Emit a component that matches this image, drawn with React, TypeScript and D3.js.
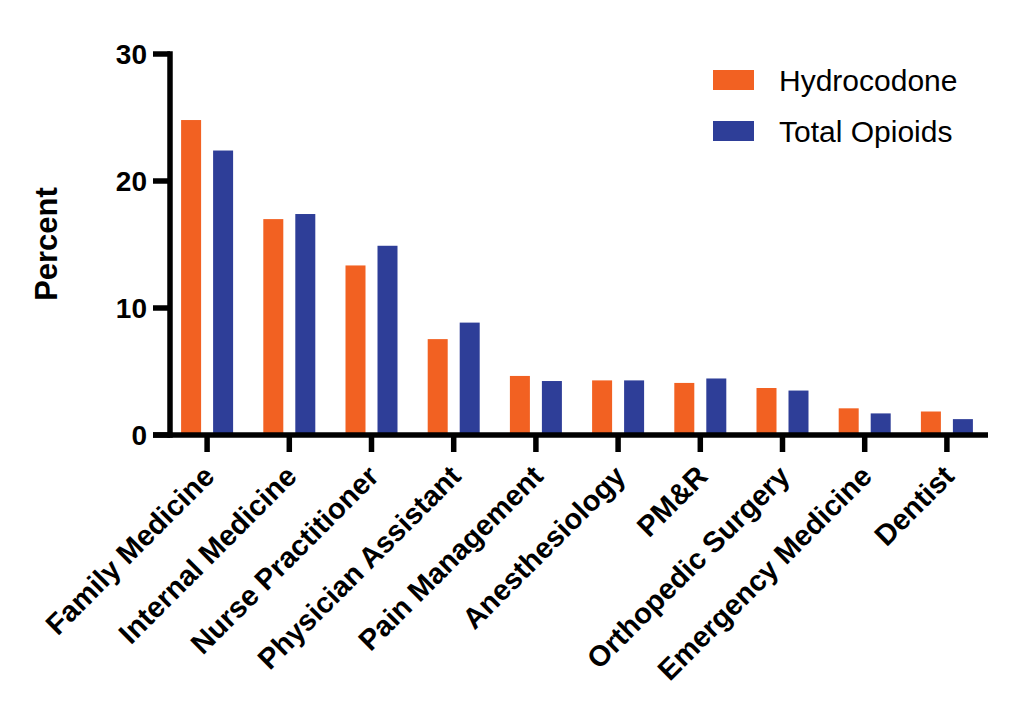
import * as d3 from 'd3';

const width = 1014;
const height = 708;

const categories = [
  'Family Medicine',
  'Internal Medicine',
  'Nurse Practitioner',
  'Physician Assistant',
  'Pain Management',
  'Anesthesiology',
  'PM&R',
  'Orthopedic Surgery',
  'Emergency Medicine',
  'Dentist',
];
const hydrocodone = [24.8, 17.0, 13.35, 7.55, 4.65, 4.3, 4.1, 3.7, 2.1, 1.85];
const totalOpioids = [22.4, 17.4, 14.9, 8.85, 4.25, 4.3, 4.45, 3.5, 1.7, 1.25];
const seriesNames = ['Hydrocodone', 'Total Opioids'];
const colors = ['#F26122', '#2E3E98'];
const yTicks = [0, 10, 20, 30];

const font = 'Arial, Liberation Sans, Helvetica, sans-serif';

export default function App() {
  const y = d3.scaleLinear([0, 30], [435, 54]);
  const x = d3.scaleBand(categories, [166, 988]);
  const inner = d3
    .scaleBand(seriesNames, [-26, 26])
    .paddingInner(0.375)
    .paddingOuter(0);
  const series = [hydrocodone, totalOpioids];
  const axisLeft = 170;
  const sw = 5.5;

  return (
    <svg
      width={width}
      height={height}
      style={{ position: 'absolute', left: 0, top: 0, background: '#fff' }}
      fontFamily={font}
    >
      {/* bars */}
      {series.map((values, s) =>
        values.map((v, i) => {
          const cx = x(categories[i])! + x.bandwidth() / 2;
          return (
            <rect
              key={`${s}-${i}`}
              x={cx + inner(seriesNames[s])!}
              y={y(v)}
              width={inner.bandwidth()}
              height={y(0) - y(v)}
              fill={colors[s]}
            />
          );
        })
      )}

      {/* y axis */}
      <line x1={axisLeft} x2={axisLeft} y1={y(30) - sw / 2} y2={y(0) + sw / 2} stroke="black" strokeWidth={sw} />
      {yTicks.map((t) => (
        <g key={t}>
          <line x1={153} x2={axisLeft} y1={y(t)} y2={y(t)} stroke="black" strokeWidth={sw} />
          <text x={147} y={y(t)} dy="0.36em" textAnchor="end" fontSize={28} fontWeight="bold">
            {t}
          </text>
        </g>
      ))}
      <text
        transform={`translate(57, 244) rotate(-90)`}
        textAnchor="middle"
        fontSize={31}
        fontWeight="bold"
      >
        Percent
      </text>

      {/* x axis */}
      <line x1={153} x2={988} y1={y(0)} y2={y(0)} stroke="black" strokeWidth={sw} />
      {categories.map((c) => {
        const cx = x(c)! + x.bandwidth() / 2;
        return (
          <g key={c}>
            <line x1={cx} x2={cx} y1={y(0)} y2={y(0) + 17} stroke="black" strokeWidth={sw} />
            <text
              transform={`translate(${cx + 9}, 478) rotate(-45)`}
              textAnchor="end"
              fontSize={29}
              fontWeight="bold"
            >
              {c}
            </text>
          </g>
        );
      })}

      {/* legend */}
      {seriesNames.map((name, i) => (
        <g key={name} transform={`translate(713, ${70 + i * 51})`}>
          <rect width={41} height={20} fill={colors[i]} />
          <text x={66} y={20.5} fontSize={30}>
            {name}
          </text>
        </g>
      ))}
    </svg>
  );
}
